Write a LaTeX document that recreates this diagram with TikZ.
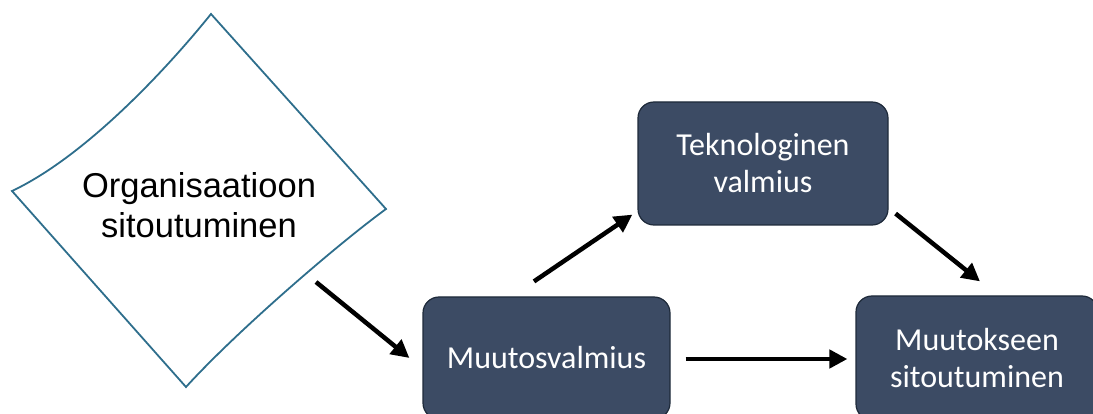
\documentclass[tikz,border=0pt]{standalone}
\usepackage{fontspec}
\setmainfont{Liberation Sans}
\newfontfamily\boxfont{Carlito}
\usetikzlibrary{arrows.meta}
\definecolor{boxfill}{RGB}{60,75,100}
\definecolor{boxline}{RGB}{30,42,58}
\definecolor{dline}{RGB}{46,110,140}
\tikzset{
  stepbox/.style={draw=boxline, line width=1.2pt, fill=boxfill, rounded corners=16pt,
    text=white, align=center, font=\boxfont\fontsize{32}{37}\selectfont, inner sep=0pt},
  arr/.style={line width=4.5pt, -{Triangle[length=18pt,width=18pt]}},
}
\begin{document}
\begin{tikzpicture}[x=1pt,y=-1pt]
\useasboundingbox (0,0) rectangle (1093,414);
\clip (0,0) rectangle (1093,414);
% diamond (punched-tape like)
\coordinate (dl) at (12,191);
\coordinate (dt) at (211,14);
\coordinate (dr) at (386,209);
\coordinate (db) at (186,387);
\draw[dline, line width=1.8pt, line join=miter]
  (dl) .. controls (82,158) and (161,76) .. (dt) -- (dr)
  .. controls (336,245.5) and (236,332) .. (db) -- cycle;
\node[align=center, font=\fontsize{34.5}{40}\selectfont] (org) at (199,205) {Organisaatioon\\sitoutuminen};
% boxes
\node[stepbox, minimum width=247pt, minimum height=122pt] (mv) at (546.5,358) {Muutosvalmius};
\node[stepbox, minimum width=250pt, minimum height=123pt] (tv) at (763,163.5) {Teknologinen\\valmius};
\node[stepbox, minimum width=242pt, minimum height=124pt] (ms) at (977,358) {Muutokseen\\sitoutuminen};
% arrows
\draw[arr] ([shift={(117,77)}]org.center) -- ([shift={(-13,0)}]mv.west);
\draw[arr] ([shift={(-12.5,-15)}]mv.north) -- ([shift={(-5,-11)}]tv.south west);
\draw[arr] ([shift={(7,-12)}]tv.south east) -- ([shift={(3,-14)}]ms.north);
\draw[arr] ([shift={(15,1)}]mv.east) -- ([shift={(-8,1)}]ms.west);
\end{tikzpicture}
\end{document}
